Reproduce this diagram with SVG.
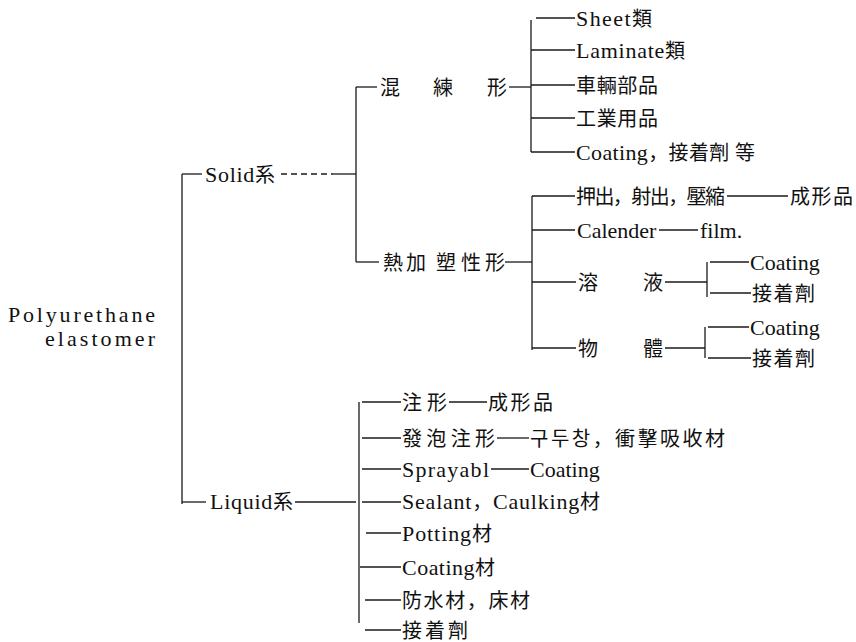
<svg xmlns="http://www.w3.org/2000/svg" width="856" height="642" viewBox="0 0 856 642">
<style>
text{font-family:"Liberation Serif","Noto Sans CJK KR","Noto Sans CJK JP",serif;font-size:20px;fill:#111}
text.l,tspan.l{font-size:22px}
.c line{stroke:#1a1a1a;stroke-width:1.3;fill:none}
.d{stroke-dasharray:6 4}
</style>
<rect width="856" height="642" fill="#fff"/>
<g class="c" id="connectors">
<line x1="182" y1="174" x2="182" y2="504"/>
<line x1="182" y1="174" x2="202" y2="174"/>
<line x1="182" y1="502" x2="206" y2="502"/>
<line class="d" x1="281" y1="174" x2="333" y2="174"/>
<line x1="333" y1="174" x2="356" y2="174"/>
<line x1="356" y1="87" x2="356" y2="262"/>
<line x1="356" y1="87" x2="377" y2="87"/>
<line x1="356" y1="262" x2="379" y2="262"/>
<line x1="509" y1="87" x2="531" y2="87"/>
<line x1="531" y1="20" x2="531" y2="152"/>
<line x1="536" y1="18" x2="575" y2="18"/>
<line x1="531" y1="50" x2="575" y2="50"/>
<line x1="531" y1="85" x2="575" y2="85"/>
<line x1="531" y1="118" x2="575" y2="118"/>
<line x1="531" y1="152" x2="575" y2="152"/>
<line x1="505" y1="262" x2="532" y2="262"/>
<line x1="532" y1="196" x2="532" y2="350"/>
<line x1="532" y1="196" x2="575" y2="196"/>
<line x1="532" y1="230" x2="575" y2="230"/>
<line x1="532" y1="282" x2="576" y2="282"/>
<line x1="532" y1="348" x2="576" y2="348"/>
<line x1="727" y1="196" x2="788" y2="196"/>
<line x1="659" y1="230" x2="698" y2="230"/>
<line x1="665" y1="282" x2="707" y2="282"/>
<line x1="707" y1="262" x2="707" y2="297"/>
<line x1="710" y1="262" x2="749" y2="262"/>
<line x1="710" y1="293" x2="751" y2="293"/>
<line x1="665" y1="348" x2="705" y2="348"/>
<line x1="705" y1="327" x2="705" y2="358"/>
<line x1="708" y1="327" x2="749" y2="327"/>
<line x1="708" y1="358" x2="751" y2="358"/>
<line x1="295" y1="502" x2="356" y2="502"/>
<line x1="359" y1="402" x2="359" y2="623"/>
<line x1="362" y1="402" x2="401" y2="402"/>
<line x1="362" y1="438" x2="401" y2="438"/>
<line x1="362" y1="469" x2="401" y2="469"/>
<line x1="362" y1="502" x2="401" y2="502"/>
<line x1="366" y1="533" x2="401" y2="533"/>
<line x1="360" y1="567" x2="401" y2="567"/>
<line x1="365" y1="600" x2="401" y2="600"/>
<line x1="365" y1="630" x2="401" y2="630"/>
<line x1="449" y1="402" x2="487" y2="402"/>
<line x1="497" y1="438" x2="529" y2="438"/>
<line x1="491" y1="469" x2="529" y2="469"/>
</g>
<g id="root">
<text class="l" x="8" y="322" textLength="147" lengthAdjust="spacing">Polyurethane</text>
<text class="l" x="45" y="346" textLength="110" lengthAdjust="spacing">elastomer</text>
</g>
<g id="solid"><text x="205" y="182" textLength="70" lengthAdjust="spacing"><tspan class="l">Solid</tspan>系</text></g>
<g id="liquid"><text x="210" y="509" textLength="83" lengthAdjust="spacing"><tspan class="l">Liquid</tspan>系</text></g>
<g id="kneading"><text y="95"><tspan x="380">混</tspan><tspan x="433">練</tspan><tspan x="487">形</tspan></text></g>
<g id="thermoplastic"><text y="270"><tspan x="383">熱</tspan><tspan x="406">加</tspan><tspan x="436">塑</tspan><tspan x="461">性</tspan><tspan x="485">形</tspan></text></g>
<g id="sheet"><text x="576" y="26" textLength="76" lengthAdjust="spacing"><tspan class="l">Sheet</tspan>類</text></g>
<g id="laminate"><text x="576" y="58" textLength="109" lengthAdjust="spacing"><tspan class="l">Laminate</tspan>類</text></g>
<g id="vehicle"><text x="576" y="93" textLength="82" lengthAdjust="spacing">車輛部品</text></g>
<g id="industrial"><text x="576" y="126" textLength="82" lengthAdjust="spacing">工業用品</text></g>
<g id="coating1"><text x="576" y="160" textLength="179" lengthAdjust="spacing"><tspan class="l">Coating</tspan>，接着劑 等</text></g>
<g id="extrusion"><text x="576" y="204" textLength="149" lengthAdjust="spacing">押出，射出，壓縮</text></g>
<g id="molded1"><text x="790" y="204" textLength="63" lengthAdjust="spacing">成形品</text></g>
<g id="calender"><text class="l" x="577" y="238">Calender</text></g>
<g id="film"><text class="l" x="700" y="238">film.</text></g>
<g id="solution"><text y="290"><tspan x="578">溶</tspan><tspan x="643">液</tspan></text></g>
<g id="sol-coating"><text class="l" x="750" y="270">Coating</text></g>
<g id="sol-adhesive"><text x="752" y="301" textLength="63" lengthAdjust="spacing">接着劑</text></g>
<g id="solid-body"><text y="356"><tspan x="578">物</tspan><tspan x="643">體</tspan></text></g>
<g id="body-coating"><text class="l" x="750" y="335">Coating</text></g>
<g id="body-adhesive"><text x="752" y="366" textLength="63" lengthAdjust="spacing">接着劑</text></g>
<g id="casting"><text x="402" y="410" textLength="45" lengthAdjust="spacing">注形</text></g>
<g id="molded2"><text x="488" y="410" textLength="65" lengthAdjust="spacing">成形品</text></g>
<g id="foam"><text x="402" y="446" textLength="93" lengthAdjust="spacing">發泡注形</text></g>
<g id="soles"><text x="530" y="446" textLength="195" lengthAdjust="spacing">구두창，衝擊吸收材</text></g>
<g id="sprayable"><text class="l" x="402" y="477" textLength="87" lengthAdjust="spacing">Sprayabl</text></g>
<g id="spray-coating"><text class="l" x="530" y="477">Coating</text></g>
<g id="sealant"><text x="402" y="509" textLength="198" lengthAdjust="spacing"><tspan class="l">Sealant</tspan>，<tspan class="l">Caulking</tspan>材</text></g>
<g id="potting"><text x="402" y="541" textLength="90" lengthAdjust="spacing"><tspan class="l">Potting</tspan>材</text></g>
<g id="coating2"><text x="402" y="575" textLength="93" lengthAdjust="spacing"><tspan class="l">Coating</tspan>材</text></g>
<g id="waterproof"><text x="402" y="608" textLength="128" lengthAdjust="spacing">防水材，床材</text></g>
<g id="adhesive"><text x="402" y="638" textLength="66" lengthAdjust="spacing">接着劑</text></g>
</svg>
